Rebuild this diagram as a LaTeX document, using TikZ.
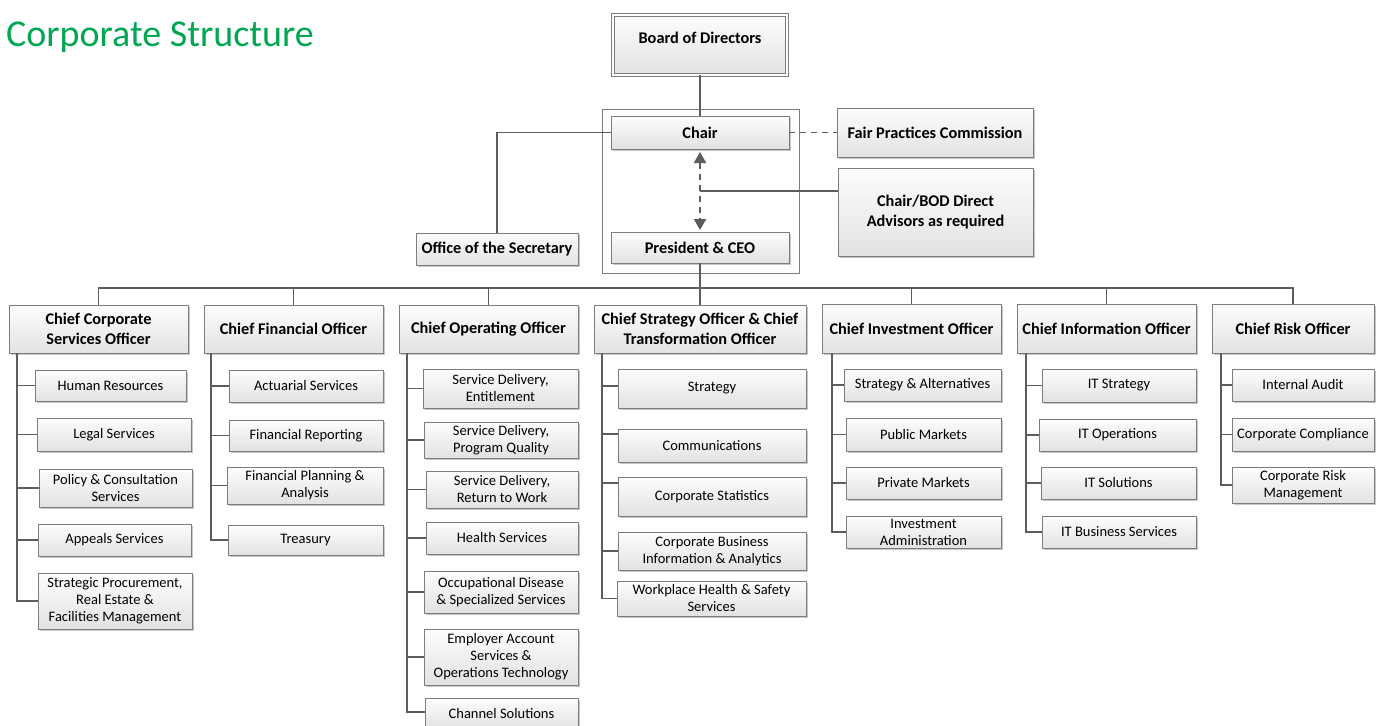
\documentclass[tikz,border=0pt]{standalone}
\usepackage{fontspec}
\setmainfont{Carlito}
\usetikzlibrary{arrows.meta,shadows}
\definecolor{ln}{RGB}{92,92,92}
\definecolor{bd}{RGB}{125,125,125}
\definecolor{ftop}{RGB}{253,253,253}
\definecolor{fbot}{RGB}{226,226,226}
\definecolor{ttl}{RGB}{0,166,81}
\tikzset{
  box/.style={draw=bd, line width=0.8pt, top color=ftop, bottom color=fbot,
    inner sep=0pt, outer sep=0pt, align=center,
    font=\fontsize{14.5}{17}\selectfont,
    drop shadow={shadow xshift=1.5pt, shadow yshift=-1.5pt, fill=black, opacity=0.22}},
  hbox/.style={font=\fontsize{16.3}{20}\selectfont\bfseries},
  conn/.style={draw=ln, line width=1.8pt},
  dconn/.style={conn, dash pattern=on 6pt off 5pt},
  darrow/.style={dconn, {Triangle[length=11pt,width=12pt]}-{Triangle[length=11pt,width=12pt]}},
}
\newcommand\bx[7][]{\node[box,#1,minimum width={(#5-#3)*1pt},minimum height={(#6-#4)*1pt}] (#2) at ({(#3+#5)/2},{(#4+#6)/2}) {#7};}
\begin{document}
\begin{tikzpicture}[x=1pt,y=-1pt]
\path[use as bounding box] (0,0) rectangle (1380,725);
\clip (0,0) rectangle (1380,725);

\node[anchor=base west, text=ttl, font=\fontsize{38}{38}\selectfont, inner sep=0pt] (title) at (6,47) {Corporate Structure};

% group container
\node[draw=bd, line width=0.6pt, fill=white, inner sep=0pt, minimum width=197pt, minimum height=164pt,
  drop shadow={shadow xshift=1.2pt, shadow yshift=-1.2pt, fill=black, opacity=0.18}] (grp) at (700.5,191) {};

% top level
\bx[hbox, double=white, double distance=2pt]{board}{613}{15}{787}{75}{\raisebox{7pt}[\height][\depth]{Board of Directors}}
\bx[hbox]{chair}{611}{116}{789}{149}{Chair}
\bx[hbox]{fair}{837}{108}{1033}{157}{Fair Practices Commission}
\bx[hbox]{adv}{838}{168}{1033}{256}{Chair/BOD Direct\\Advisors as required}
\bx[hbox]{pres}{611}{232}{789}{263}{President \& CEO}
\bx[hbox]{sec}{416}{233}{578}{265}{Office of the Secretary}

\draw[conn] (board.south) -- (chair.north);
\draw[dconn] (chair.east) -- (fair.west);
\draw[conn] (chair.west) -| (sec.north);
\draw[darrow, shorten <=3pt, shorten >=2pt] (chair.south) -- (pres.north);
\coordinate (advj) at (700,191);
\draw[conn] (advj) -- (adv.west |- advj);

% officers
\bx[hbox]{ccso}{9}{305}{188}{353}{Chief Corporate\\Services Officer}
\bx[hbox]{cfo}{204}{305}{383}{353}{Chief Financial Officer}
\bx[hbox]{coo}{399}{305}{578}{353}{Chief Operating Officer}
\bx[hbox]{cso}{594}{305}{806}{353}{Chief Strategy Officer \& Chief\\Transformation Officer}
\bx[hbox]{cinv}{822}{304}{1001}{353}{Chief Investment Officer}
\bx[hbox]{cio}{1017}{304}{1196}{353}{Chief Information Officer}
\bx[hbox]{cro}{1212}{304}{1374}{353}{Chief Risk Officer}

\coordinate (bus) at (0,288);
\draw[conn] (pres.south) -- (pres.south |- bus);
\draw[conn] (ccso.north) -- (ccso.north |- bus) -- (cro.north |- bus) -- (cro.north);
\foreach \n in {cfo,coo,cso,cinv,cio} \draw[conn] (\n.north) -- (\n.north |- bus);

% CCSO
\bx{hr}{35}{370}{186}{401}{Human Resources}
\bx{legal}{37}{418}{191}{451}{Legal Services}
\bx{policy}{39}{469}{192}{507}{Policy \& Consultation\\Services}
\bx{appeals}{38}{524}{191}{556}{Appeals Services}
\bx{proc}{38}{573}{192}{629}{Strategic Procurement,\\Real Estate \&\\Facilities Management}
\coordinate (tA) at ([xshift=8pt]ccso.south west);
\draw[conn] (tA) |- (proc.west);
\foreach \n in {hr,legal,policy,appeals} \draw[conn] (tA |- \n.west) -- (\n.west);

% CFO
\bx{act}{229}{370}{383}{402}{Actuarial Services}
\bx{frep}{229}{420}{383}{451}{Financial Reporting}
\bx{fplan}{227}{467}{383}{504}{Financial Planning \&\\Analysis}
\bx{treas}{228}{525}{383}{555}{Treasury}
\coordinate (tB) at ([xshift=7pt]cfo.south west);
\draw[conn] (tB) |- (treas.west);
\foreach \n in {act,frep,fplan} \draw[conn] (tB |- \n.west) -- (\n.west);

% COO
\bx{sde}{423}{369}{578}{408}{Service Delivery,\\Entitlement}
\bx{sdp}{424}{422}{578}{458}{Service Delivery,\\Program Quality}
\bx{sdr}{426}{471}{578}{508}{Service Delivery,\\Return to Work}
\bx{health}{426}{522}{578}{554}{Health Services}
\bx{occ}{424}{571}{578}{613}{Occupational Disease\\\& Specialized Services}
\bx{emp}{424}{629}{578}{685}{Employer Account\\Services \&\\Operations Technology}
\bx{chan}{425}{698}{578}{729}{Channel Solutions}
\coordinate (tC) at ([xshift=8pt]coo.south west);
\draw[conn] (tC) |- ([yshift=1.5pt]chan.west);
\foreach \n in {sde,sdp,sdr,health,occ,emp} \draw[conn] (tC |- \n.west) -- (\n.west);

% CSO
\bx{strat}{618}{369}{806}{408}{Strategy}
\bx{comm}{618}{429}{806}{462}{Communications}
\bx{cstat}{618}{477}{806}{516}{Corporate Statistics}
\bx{cbi}{618}{532}{806}{570}{Corporate Business\\Information \& Analytics}
\bx{whs}{617}{581}{806}{616}{Workplace Health \& Safety\\Services}
\coordinate (tD) at ([xshift=8pt]cso.south west);
\draw[conn] (tD) |- (whs.west);
\draw[conn] (tD |- 0,386) -- (strat.west |- 0,386);
\draw[conn] (tD |- 0,434) -- (comm.west |- 0,434);
\draw[conn] (tD |- 0,483) -- (cstat.west |- 0,483);
\draw[conn] (tD |- cbi.west) -- (cbi.west);

% CInvO
\bx{salt}{844}{369}{1001}{401}{Strategy \& Alternatives}
\bx{pub}{846}{418}{1001}{451}{Public Markets}
\bx{priv}{846}{467}{1001}{499}{Private Markets}
\bx{invad}{846}{516}{1001}{548}{Investment\\Administration}
\coordinate (tE) at ([xshift=10pt]cinv.south west);
\draw[conn] (tE) |- (invad.west);
\foreach \n in {salt,pub,priv} \draw[conn] (tE |- \n.west) -- (\n.west);

% CIO
\bx{its}{1042}{369}{1196}{402}{IT Strategy}
\bx{ito}{1039}{419}{1196}{451}{IT Operations}
\bx{itsol}{1041}{467}{1196}{499}{IT Solutions}
\bx{itb}{1042}{516}{1196}{548}{IT Business Services}
\coordinate (tF) at ([xshift=9pt]cio.south west);
\draw[conn] (tF) |- (itb.west);
\foreach \n in {its,ito,itsol} \draw[conn] (tF |- \n.west) -- (\n.west);

% CRO
\bx{ia}{1232}{369}{1374}{401}{Internal Audit}
\bx{cc}{1232}{418}{1374}{451}{Corporate Compliance}
\bx{crm}{1232}{467}{1374}{503}{Corporate Risk\\Management}
\coordinate (tG) at ([xshift=9pt]cro.south west);
\draw[conn] (tG) |- (crm.west);
\foreach \n in {ia,cc} \draw[conn] (tG |- \n.west) -- (\n.west);
\end{tikzpicture}
\end{document}
